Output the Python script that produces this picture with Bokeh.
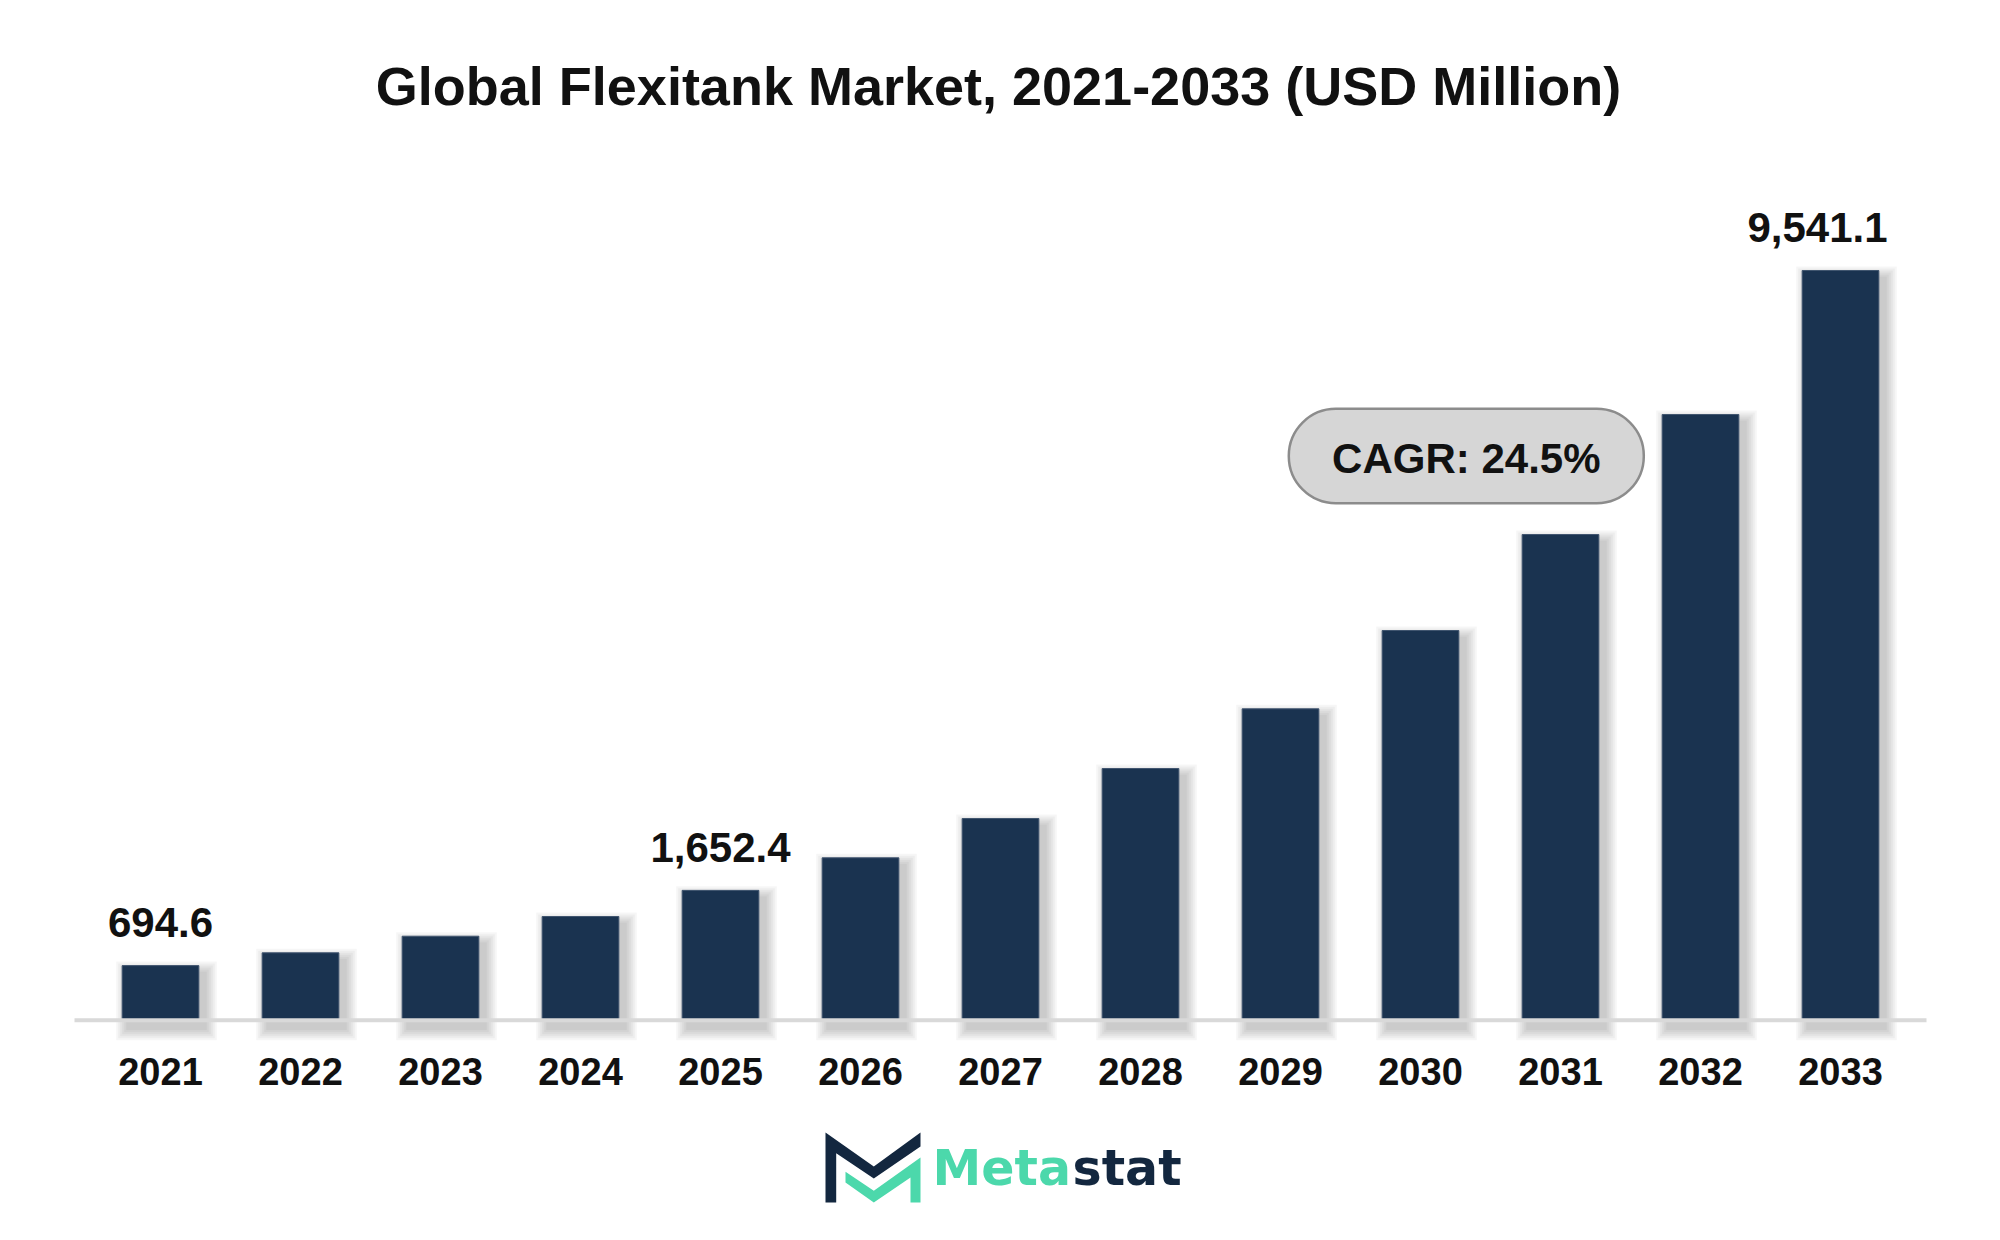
from bokeh.plotting import figure
from bokeh.models import ColumnDataSource, Range1d, Span
from bokeh.embed import file_html
from bokeh.resources import INLINE
from bokeh.core.properties import value

# ---------------- data ----------------
years = ["2021", "2022", "2023", "2024", "2025", "2026", "2027",
         "2028", "2029", "2030", "2031", "2032", "2033"]
market_usd_mn = [694.6, 857.8, 1069.0, 1319.7, 1652.4, 2066.8, 2567.0,
                 3203.0, 3963.0, 4959.5, 6181.0, 7708.5, 9541.1]
labeled_years = ["2021", "2025", "2033"]
title_text = "Global Flexitank Market, 2021-2033 (USD Million)"
cagr_text = "CAGR: 24.5%"
brand_left, brand_right = "Meta", "stat"

# ---------------- styles / geometry ----------------
FONT_NAME = "Liberation Sans"
FONT = value(FONT_NAME)
BAR_COLOR = "#1a3350"
TEXT_COLOR = "#111111"
W, H = 2000, 1240
PITCH = 140.0            # px per category
YS = 0.078576            # px per USD million
ZERO_PX = 1019.7         # zero line, px from top
BAR_W = 76.7 / PITCH
PXX = 1.0 / PITCH
PXY = 1.0 / YS


def xd(px):  # page px -> data x
    return (px - 160) / PITCH


def yd(py):  # page px -> data y
    return (ZERO_PX - py) * PXY


xs = list(range(len(years)))

p = figure(width=W, height=H, output_backend="svg", toolbar_location=None,
           x_range=Range1d(xd(0), xd(W)), y_range=Range1d(yd(H), yd(0)),
           x_axis_location=None, y_axis_location=None,
           min_border_left=0, min_border_right=0, min_border_top=0, min_border_bottom=0)
p.outline_line_color = None
p.background_fill_color = "white"
p.border_fill_color = "white"
p.grid.visible = False

# soft drop shadows
dx, dy = 6, 8
for s in (2, 4, 6, 8, 10, 12):
    src = ColumnDataSource(dict(
        left=[x - BAR_W / 2 + (dx - s) * PXX for x in xs],
        right=[x + BAR_W / 2 + (dx + s) * PXX for x in xs],
        top=[v - (dy - s) * PXY for v in market_usd_mn],
        bottom=[-(dy + s) * PXY for _ in xs],
    ))
    p.quad(left="left", right="right", top="top", bottom="bottom", source=src,
           fill_color="black", fill_alpha=0.035, line_color=None)

bars = ColumnDataSource(dict(x=xs, top=market_usd_mn, year=years))
p.vbar(x="x", top="top", width=BAR_W, bottom=0, source=bars,
       fill_color=BAR_COLOR, line_color="#40556f", line_width=1)

# baseline (axis line)
p.segment(x0=[xd(74)], x1=[xd(1926)], y0=[0], y1=[0], line_color="#d9d9d9", line_width=4)

# category (year) labels under the axis line
p.text(x="x", y=yd(1071.2), text="year", source=bars,
       text_font=FONT, text_font_style="bold", text_font_size="38px",
       text_color=TEXT_COLOR, text_align="center", text_baseline="middle")

# value labels
lab_idx = [years.index(y) for y in labeled_years]
lab_src = ColumnDataSource(dict(
    x=lab_idx,
    y=[market_usd_mn[i] for i in lab_idx],
    t=[f"{market_usd_mn[i]:,.1f}" for i in lab_idx],
    xo=[0, 0, -23],
))
p.text(x="x", y="y", text="t", x_offset="xo", y_offset=-43, source=lab_src,
       text_font=FONT, text_font_style="bold", text_font_size="42px",
       text_color=TEXT_COLOR, text_align="center", text_baseline="middle")

# title
p.text(x=[xd(998)], y=[yd(85)], text=[title_text], text_font=FONT,
       text_font_style="bold", text_font_size="54px", text_color=TEXT_COLOR,
       text_align="center", text_baseline="middle")

# CAGR pill
p.quad(left=[xd(1288.3)], right=[xd(1643.3)], top=[yd(408.3)], bottom=[yd(502.7)],
       fill_color="#d6d6d6", line_color="#8c8c8c", line_width=2.5, border_radius=47)
p.text(x=[xd(1465.8)], y=[yd(457.5)], text=[cagr_text], text_font=FONT,
       text_font_style="bold", text_font_size="42px", text_color=TEXT_COLOR,
       text_align="center", text_baseline="middle")

# ---------------- logo ----------------
DARK, GREEN = "#13273f", "#4cd8ab"
dark_x = [825, 873.3, 920, 920, 873.3, 835.7, 835.7, 825]
dark_y = [1132, 1166, 1132, 1146, 1178, 1152.7, 1202, 1202]
green_x = [845, 873.3, 920, 920, 910, 910, 873.3, 845]
green_y = [1171.3, 1190.3, 1157, 1202, 1202, 1177, 1202, 1182]
p.patch([xd(v) for v in dark_x], [yd(v) for v in dark_y], fill_color=DARK, line_color=None)
p.patch([xd(v) for v in green_x], [yd(v) for v in green_y], fill_color=GREEN, line_color=None)
LOGO_FS = 49
logo_y = yd(1185 - 0.3465 * LOGO_FS)
p.text(x=[xd(932)], y=[logo_y], text=[brand_left], text_color=GREEN,
       text_font=value("DejaVu Sans"), text_font_style="bold",
       text_font_size=f"{LOGO_FS}px", text_align="left", text_baseline="middle")
p.text(x=[xd(1072)], y=[logo_y], text=[brand_right], text_color=DARK,
       text_font=value("DejaVu Sans"), text_font_style="bold",
       text_font_size=f"{LOGO_FS}px", text_align="left", text_baseline="middle")

open("out.html", "w").write(file_html(p, INLINE))
